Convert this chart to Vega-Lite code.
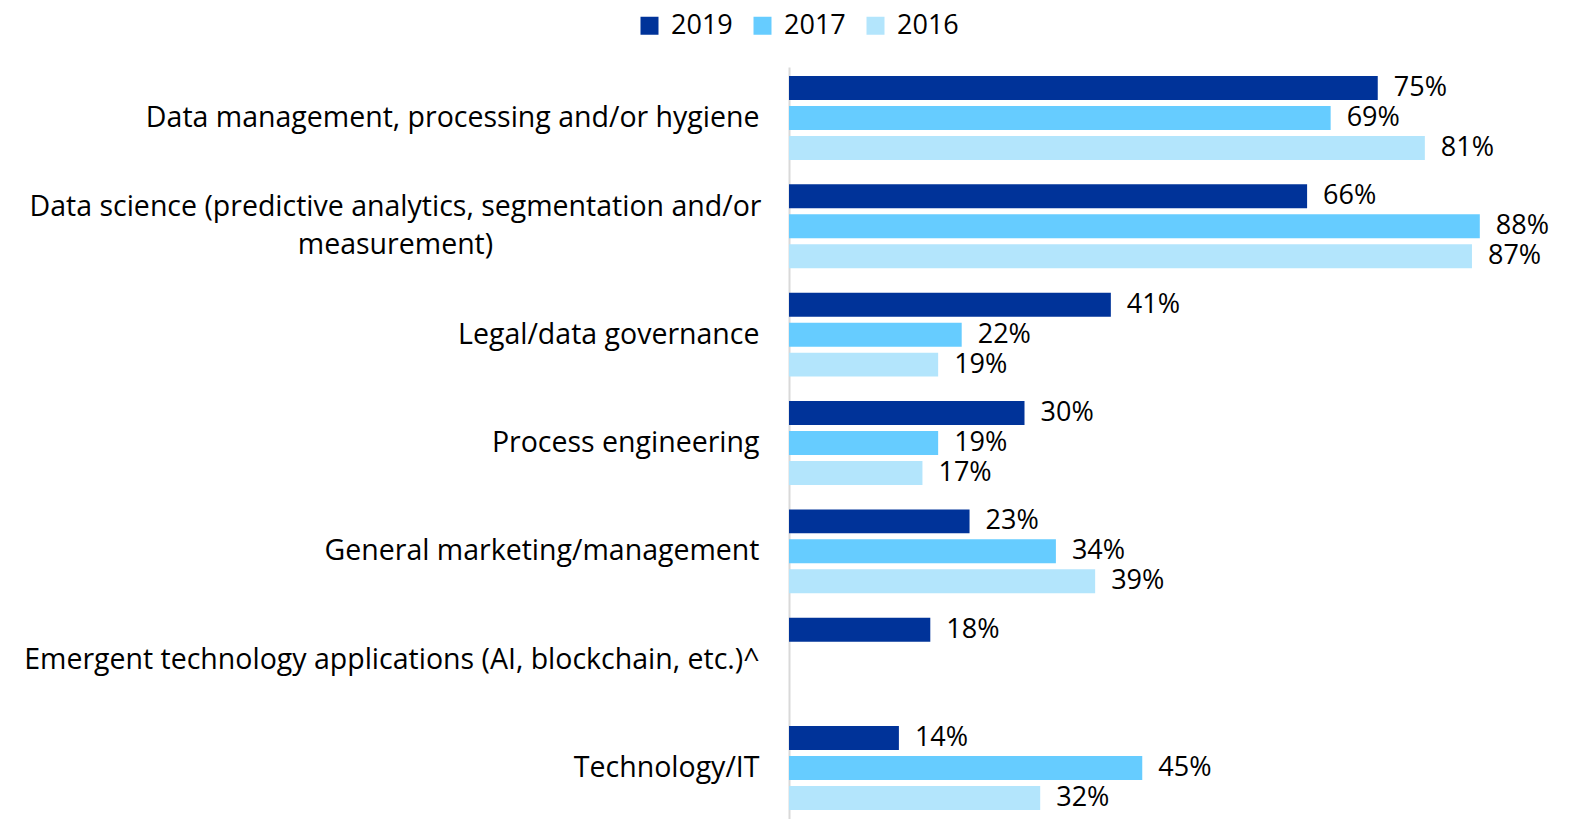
{
  "$schema": "https://vega.github.io/schema/vega-lite/v6.json",
  "width": 785,
  "height": 752,
  "autosize": {"type": "none"},
  "padding": {"left": 789, "top": 67, "right": 3, "bottom": 0},
  "background": "white",
  "config": {"view": {"stroke": null}, "font": "Open Sans"},
  "data": {
    "values": [
      {"category": "Data management, processing and/or hygiene", "year": "2019", "value": 0.75},
      {"category": "Data management, processing and/or hygiene", "year": "2017", "value": 0.69},
      {"category": "Data management, processing and/or hygiene", "year": "2016", "value": 0.81},
      {"category": "Data science (predictive analytics, segmentation and/or measurement)", "year": "2019", "value": 0.66},
      {"category": "Data science (predictive analytics, segmentation and/or measurement)", "year": "2017", "value": 0.88},
      {"category": "Data science (predictive analytics, segmentation and/or measurement)", "year": "2016", "value": 0.87},
      {"category": "Legal/data governance", "year": "2019", "value": 0.41},
      {"category": "Legal/data governance", "year": "2017", "value": 0.22},
      {"category": "Legal/data governance", "year": "2016", "value": 0.19},
      {"category": "Process engineering", "year": "2019", "value": 0.30},
      {"category": "Process engineering", "year": "2017", "value": 0.19},
      {"category": "Process engineering", "year": "2016", "value": 0.17},
      {"category": "General marketing/management", "year": "2019", "value": 0.23},
      {"category": "General marketing/management", "year": "2017", "value": 0.34},
      {"category": "General marketing/management", "year": "2016", "value": 0.39},
      {"category": "Emergent technology applications (AI, blockchain, etc.)^", "year": "2019", "value": 0.18},
      {"category": "Technology/IT", "year": "2019", "value": 0.14},
      {"category": "Technology/IT", "year": "2017", "value": 0.45},
      {"category": "Technology/IT", "year": "2016", "value": 0.32}
    ]
  },
  "encoding": {
    "y": {
      "field": "category",
      "type": "nominal",
      "sort": [
        "Data management, processing and/or hygiene",
        "Data science (predictive analytics, segmentation and/or measurement)",
        "Legal/data governance",
        "Process engineering",
        "General marketing/management",
        "Emergent technology applications (AI, blockchain, etc.)^",
        "Technology/IT"
      ],
      "scale": {"paddingInner": 0.17, "paddingOuter": 0.055},
      "axis": {
        "title": null,
        "domain": true,
        "domainColor": "#d9d9d9",
        "domainWidth": 2,
        "ticks": false,
        "grid": false,
        "labelFontSize": 28.5,
        "labelFont": "Open Sans",
        "labelColor": "#000000",
        "labelLimit": 1000,
        "labelLineHeight": 38,
        "labelAlign": {"condition": {"test": "indexof(datum.value, 'Data science') == 0", "value": "center"}, "value": "right"},
        "labelPadding": {"condition": {"test": "indexof(datum.value, 'Data science') == 0", "value": 394}, "value": 30},
        "labelOffset": {"condition": {"test": "indexof(datum.value, 'Data science') == 0", "value": -19}, "value": 0},
        "labelExpr": "datum.label == 'Data science (predictive analytics, segmentation and/or measurement)' ? ['Data science (predictive analytics, segmentation and/or', 'measurement)'] : datum.label"
      }
    },
    "yOffset": {
      "field": "year",
      "type": "nominal",
      "sort": ["2019", "2017", "2016"],
      "scale": {"domain": ["2019", "2017", "2016"], "paddingInner": 0.2, "paddingOuter": 0.1}
    },
    "x": {
      "field": "value",
      "type": "quantitative",
      "scale": {"domain": [0, 1]},
      "axis": null
    }
  },
  "layer": [
    {
      "mark": {"type": "bar"},
      "encoding": {
        "color": {
          "field": "year",
          "type": "nominal",
          "sort": ["2019", "2017", "2016"],
          "scale": {"domain": ["2019", "2017", "2016"], "range": ["#003399", "#66CCFF", "#B3E5FC"]},
          "legend": {
            "orient": "none",
            "legendX": -153,
            "legendY": -55,
            "direction": "horizontal",
            "title": null,
            "symbolType": "square",
            "symbolSize": 324,
            "symbolStrokeWidth": 0,
            "labelFontSize": 27,
            "labelFont": "Open Sans",
            "labelColor": "#000000",
            "labelOffset": 8,
            "columnPadding": 16
          }
        }
      }
    },
    {
      "mark": {"type": "text", "align": "left", "baseline": "middle", "dx": 16, "fontSize": 27, "font": "Open Sans", "color": "#000000"},
      "encoding": {
        "text": {"field": "value", "type": "quantitative", "format": ".0%"}
      }
    }
  ]
}
